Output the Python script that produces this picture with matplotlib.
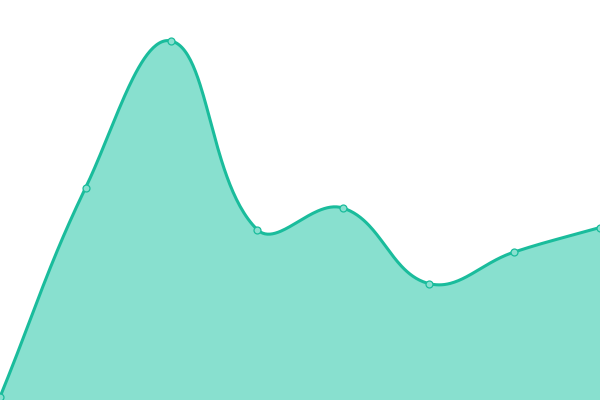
import numpy as np
import matplotlib
matplotlib.use("Agg")
import matplotlib.pyplot as plt

# data
x_vals = [0, 1, 2, 3, 4, 5, 6, 7]
y_vals = [3, 212.5, 359, 170.5, 192, 116.5, 148, 172.5]

line_color = "#1abc9c"
fill_color = "#88e0cf"

W, H = 600, 400
fig = plt.figure(figsize=(W / 100, H / 100), dpi=100)
ax = fig.add_axes([0, 0, 1, 1])
ax.set_xlim(0, 7)
ax.set_ylim(0, 400)
ax.axis("off")


def to_px(x, y):
    return x * W / 7.0, y


def spline(xs, ys, t=0.4):
    # chart.js style bezier control points, computed in pixel space
    pts = [to_px(a, b) for a, b in zip(xs, ys)]
    n = len(pts)
    ctrl = []
    for i in range(n):
        p0 = pts[max(i - 1, 0)]
        p1 = pts[i]
        p2 = pts[min(i + 1, n - 1)]
        d01 = np.hypot(p1[0] - p0[0], p1[1] - p0[1])
        d12 = np.hypot(p2[0] - p1[0], p2[1] - p1[1])
        tot = d01 + d12
        s01 = d01 / tot if tot else 0
        s12 = d12 / tot if tot else 0
        fa, fb = t * s01, t * s12
        prev = (p1[0] - fa * (p2[0] - p0[0]), p1[1] - fa * (p2[1] - p0[1]))
        nxt = (p1[0] + fb * (p2[0] - p0[0]), p1[1] + fb * (p2[1] - p0[1]))
        ctrl.append((prev, nxt))
    cx, cy = [], []
    s = np.linspace(0, 1, 60)
    for i in range(n - 1):
        P0 = np.array(pts[i])
        P1 = np.array(ctrl[i][1])
        P2 = np.array(ctrl[i + 1][0])
        P3 = np.array(pts[i + 1])
        seg = ((1 - s) ** 3)[:, None] * P0 + (3 * (1 - s) ** 2 * s)[:, None] * P1 \
            + (3 * (1 - s) * s ** 2)[:, None] * P2 + (s ** 3)[:, None] * P3
        cx.extend(seg[:, 0] * 7.0 / W)
        cy.extend(seg[:, 1])
    return np.array(cx), np.array(cy)


sx, sy = spline(x_vals, y_vals)
ax.fill_between(sx, sy, 0, color=fill_color, linewidth=0)
ax.plot(sx, sy, color=line_color, linewidth=2.2, solid_capstyle="round")
ax.plot(x_vals, y_vals, "o", markersize=5, markerfacecolor=fill_color,
        markeredgecolor=line_color, markeredgewidth=0.9, clip_on=False)

fig.savefig("out.png", dpi=100)
